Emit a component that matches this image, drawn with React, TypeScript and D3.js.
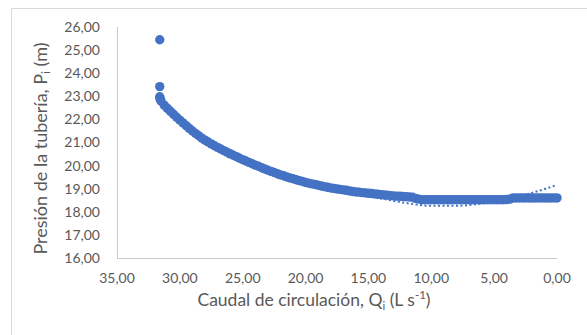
import React from 'react';
import * as d3 from 'd3';

// Caudal (L/s) and presión (m)
const caudal = [
  31.6, 31.6, 31.6, 31.58, 31.55,
  31.5, 31.25, 31.0, 30.75, 30.5, 30.25, 30.0, 29.75, 29.5, 29.25, 29.0, 28.75, 28.5, 28.25,
  28.0, 27.75, 27.5, 27.25, 27.0, 26.75, 26.5, 26.25, 26.0, 25.75, 25.5, 25.25, 25.0, 24.75,
  24.5, 24.25, 24.0, 23.75, 23.5, 23.25, 23.0, 22.75, 22.5, 22.25, 22.0, 21.75, 21.5, 21.25,
  21.0, 20.75, 20.5, 20.25, 20.0, 19.75, 19.5, 19.25, 19.0, 18.75, 18.5, 18.25, 18.0, 17.75,
  17.5, 17.25, 17.0, 16.75, 16.5, 16.25, 16.0, 15.75, 15.5, 15.25, 15.0, 14.75, 14.5, 14.25,
  14.0, 13.75, 13.5, 13.25, 13.0, 12.75, 12.5, 12.25, 12.0, 11.75, 11.5, 11.25, 11.0,
  10.75, 10.5, 10.25, 10.0, 9.75, 9.5, 9.25, 9.0, 8.75, 8.5, 8.25, 8.0, 7.75, 7.5, 7.25,
  7.0, 6.75, 6.5, 6.25, 6.0, 5.75, 5.5, 5.25, 5.0, 4.75, 4.5, 4.25, 4.0, 3.75,
  3.5, 3.25, 3.0, 2.75, 2.5, 2.25, 2.0, 1.75, 1.5, 1.25, 1.0, 0.75, 0.5, 0.25, 0.0,
];
const presion = [
  25.45, 23.42, 22.98, 22.9, 22.85,
  22.8, 22.62, 22.48, 22.35, 22.22, 22.09, 21.97, 21.85, 21.73, 21.61, 21.5, 21.39, 21.29, 21.19,
  21.1, 21.02, 20.94, 20.86, 20.79, 20.72, 20.65, 20.58, 20.51, 20.45, 20.39, 20.32, 20.26, 20.2,
  20.14, 20.08, 20.02, 19.97, 19.91, 19.86, 19.8, 19.75, 19.7, 19.65, 19.6, 19.56, 19.51, 19.47,
  19.43, 19.39, 19.35, 19.31, 19.27, 19.24, 19.21, 19.18, 19.15, 19.12, 19.09, 19.06, 19.03, 19.01,
  18.99, 18.97, 18.95, 18.93, 18.9, 18.88, 18.86, 18.85, 18.83, 18.82, 18.8, 18.79, 18.77, 18.76,
  18.74, 18.73, 18.72, 18.7, 18.69, 18.68, 18.67, 18.66, 18.65, 18.64, 18.63, 18.58, 18.55,
  18.52, 18.52, 18.52, 18.52, 18.52, 18.52, 18.52, 18.52, 18.52, 18.52, 18.52, 18.52, 18.52, 18.52, 18.52,
  18.52, 18.52, 18.52, 18.52, 18.52, 18.52, 18.52, 18.52, 18.52, 18.52, 18.52, 18.52, 18.53, 18.55,
  18.6, 18.6, 18.6, 18.6, 18.6, 18.6, 18.6, 18.6, 18.6, 18.6, 18.6, 18.6, 18.6, 18.6, 18.6,
];
// dotted polynomial trendline, read at a few flows
const trendQ = [31.6, 30, 28, 26, 24, 22, 20, 18, 16, 14, 12, 10, 8, 6, 4, 2, 0];
const trendP = [22.92, 22.0, 21.12, 20.5, 20.0, 19.6, 19.26, 19.0, 18.79, 18.58, 18.38, 18.26, 18.26, 18.36, 18.55, 18.82, 19.16];
const yTicks = [16, 17, 18, 19, 20, 21, 22, 23, 24, 25, 26];
const xTicks = [35, 30, 25, 20, 15, 10, 5, 0];

const W = 587;
const H = 335;
const plot = { left: 117, right: 557, top: 27, bottom: 258 };
const blue = '#4472C4';
const grey = '#595959';
const font = 'Lato, "Open Sans", sans-serif';

const fmt = (v: number) => v.toFixed(2).replace('.', ',');

const App = () => {
  const x = d3.scaleLinear().domain([35, 0]).range([plot.left, plot.right]);
  const y = d3.scaleLinear().domain([16, 26]).range([plot.bottom, plot.top]);

  const line = d3
    .line<number>()
    .x((q) => x(q))
    .y((_, i) => y(trendP[i]))
    .curve(d3.curveMonotoneX);

  return (
    <svg width={W} height={H} style={{ display: 'block', position: 'absolute', left: 0, top: 0 }}>
      <rect x={0} y={0} width={W} height={H} fill="#fff" />
      <rect x={11.5} y={8.5} width={W + 20} height={H + 20} fill="#fff" stroke="#d9d9d9" />
      <line x1={plot.left + 0.5} x2={plot.left + 0.5} y1={plot.top} y2={plot.bottom} stroke="#c9c9c9" />
      <line x1={plot.left} x2={plot.right} y1={plot.bottom + 0.5} y2={plot.bottom + 0.5} stroke="#c9c9c9" />
      {yTicks.map((t) => (
        <text key={t} x={100} y={y(t)} dy="0.35em" textAnchor="end" fontFamily={font} fontSize={14} fill={grey}>
          {fmt(t)}
        </text>
      ))}
      {xTicks.map((t) => (
        <text key={t} x={x(t)} y={283} textAnchor="middle" fontFamily={font} fontSize={14} fill={grey}>
          {fmt(t)}
        </text>
      ))}
      <text
        transform={`translate(47,${(plot.top + plot.bottom) / 2 + 6}) rotate(-90)`}
        textAnchor="middle"
        fontFamily={font}
        fontSize={18}
        fill={grey}
      >
        Presión de la tubería, P<tspan fontSize={12} dy={3}>i</tspan>
        <tspan dy={-3}> (m)</tspan>
      </text>
      <text x={314} y={306} textAnchor="middle" fontFamily={font} fontSize={17.5} fill={grey}>
        Caudal de circulación, Q<tspan fontSize={11.5} dy={4}>i</tspan>
        <tspan dy={-4}> (L s</tspan>
        <tspan fontSize={11.5} dy={-7}>-1</tspan>
        <tspan dy={7}>)</tspan>
      </text>
      <g>
        {caudal.map((q, i) => (
          <circle key={i} cx={x(q)} cy={y(presion[i])} r={4.7} fill={blue} />
        ))}
      </g>
      <path d={line(trendQ) || ''} fill="none" stroke={blue} strokeWidth={2} strokeDasharray="2,2.5" />
    </svg>
  );
};

export default App;
